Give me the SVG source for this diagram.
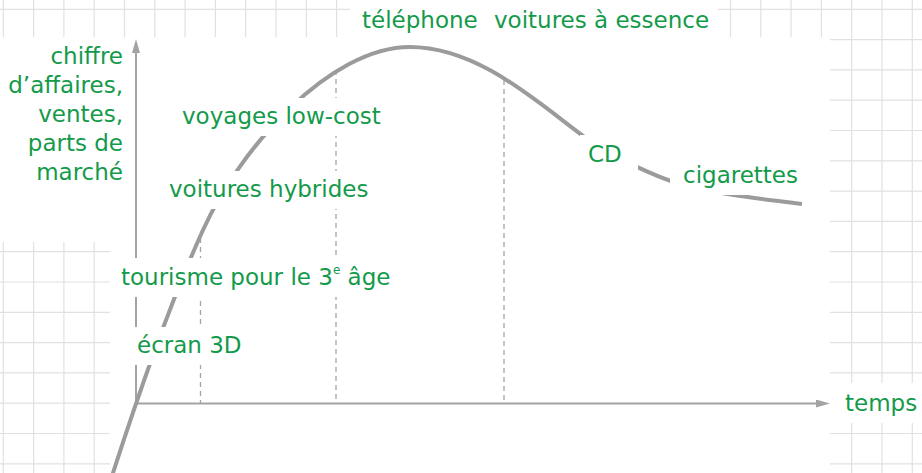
<svg xmlns="http://www.w3.org/2000/svg" width="922" height="473" viewBox="0 0 922 473">
  <style>
    .grid { stroke: #e1e1e1; stroke-width: 1.2; fill: none; }
    .bg { fill: #ffffff; }
    .axis { stroke: #a3a3a3; stroke-width: 2; fill: none; }
    .dash { stroke: #a5a5a5; stroke-width: 1.3; stroke-dasharray: 5 4; fill: none; }
    .curve { stroke: #9b9b9e; stroke-width: 4; fill: none; }
    .lbl { font-family: "DejaVu Sans", "Liberation Sans", sans-serif; font-size: 23px; fill: #139a4a; }
    .end { text-anchor: end; }
  </style>
  <defs>
    <marker id="arr" viewBox="0 0 14 8" refX="0" refY="4" markerWidth="14" markerHeight="8" markerUnits="userSpaceOnUse" orient="auto">
      <path d="M0,0 L14,4 L0,8 Z" fill="#a3a3a3"/>
    </marker>
  </defs>

  <rect x="0" y="0" width="922" height="473" fill="#ffffff"/>
  <g id="grid">
    <path class="grid" d="M3.3,0V473 M33.6,0V473 M63.9,0V473 M94.2,0V473 M124.5,0V473 M154.8,0V473 M185.1,0V473 M215.4,0V473 M245.7,0V473 M276,0V473 M306.3,0V473 M336.6,0V473 M366.9,0V473 M397.2,0V473 M427.5,0V473 M457.8,0V473 M488.1,0V473 M518.4,0V473 M548.7,0V473 M579,0V473 M609.3,0V473 M639.6,0V473 M669.9,0V473 M700.2,0V473 M730.5,0V473 M760.8,0V473 M791.1,0V473 M821.4,0V473 M851.7,0V473 M882,0V473 M912.3,0V473 M0,9.3H922 M0,39.6H922 M0,69.9H922 M0,100.2H922 M0,130.5H922 M0,160.8H922 M0,191.1H922 M0,221.4H922 M0,251.7H922 M0,282H922 M0,312.3H922 M0,342.6H922 M0,372.9H922 M0,403.2H922 M0,433.5H922 M0,463.8H922"/>
    <rect class="bg" x="110" y="37" width="720" height="436"/>
    <rect class="bg" x="0" y="37" width="110" height="205"/>
    <rect class="bg" x="350" y="0" width="368" height="37"/>
    <rect class="bg" x="830" y="383" width="92" height="40"/>
  </g>

  <g id="connectors">
    <line class="axis" x1="136" y1="404" x2="136" y2="53" marker-end="url(#arr)"/>
    <line class="axis" x1="135" y1="403.5" x2="816" y2="403.5" marker-end="url(#arr)"/>
    <line class="dash" x1="200.5" y1="238" x2="200.5" y2="403"/>
    <line class="dash" x1="336" y1="70" x2="336" y2="403"/>
    <line class="dash" x1="504" y1="80" x2="504" y2="403"/>
    <path id="curve" class="curve" d="M112,476 C143,380 173,296 203,230 C240,148 330,47 410,47 C480,47 540,105 590,141 C610,155.4 655,176.5 680,184 C710,193 762,199 802,204"/>
  </g>

  <g id="label-boxes">
    <rect class="bg" x="178" y="98" width="207" height="38"/>
    <rect class="bg" x="165" y="171" width="209" height="38"/>
    <rect class="bg" x="117" y="258" width="279" height="39"/>
    <rect class="bg" x="131" y="327" width="117" height="38"/>
    <rect class="bg" x="580" y="135" width="58" height="39"/>
    <rect class="bg" x="670" y="156" width="134" height="39"/>
  </g>

  <g id="y-axis-label">
    <text class="lbl end" x="123" y="64">chiffre</text>
    <text class="lbl end" x="123" y="93">d’affaires,</text>
    <text class="lbl end" x="123" y="122">ventes,</text>
    <text class="lbl end" x="123" y="151">parts de</text>
    <text class="lbl end" x="123" y="180">marché</text>
  </g>
  <g id="x-axis-label"><text class="lbl" x="845" y="411">temps</text></g>
  <g id="telephone"><text class="lbl" x="362" y="28">téléphone</text></g>
  <g id="voitures-essence"><text class="lbl" x="494" y="28">voitures à essence</text></g>
  <g id="voyages"><text class="lbl" x="182" y="124">voyages low-cost</text></g>
  <g id="hybrides"><text class="lbl" x="169" y="197">voitures hybrides</text></g>
  <g id="tourisme"><text class="lbl" x="121" y="285">tourisme pour le 3<tspan font-size="12" dy="-11">e</tspan><tspan dy="11"> âge</tspan></text></g>
  <g id="ecran"><text class="lbl" x="137" y="353">écran 3D</text></g>
  <g id="cd"><text class="lbl" x="588" y="162">CD</text></g>
  <g id="cigarettes"><text class="lbl" x="683" y="183">cigarettes</text></g>
</svg>
